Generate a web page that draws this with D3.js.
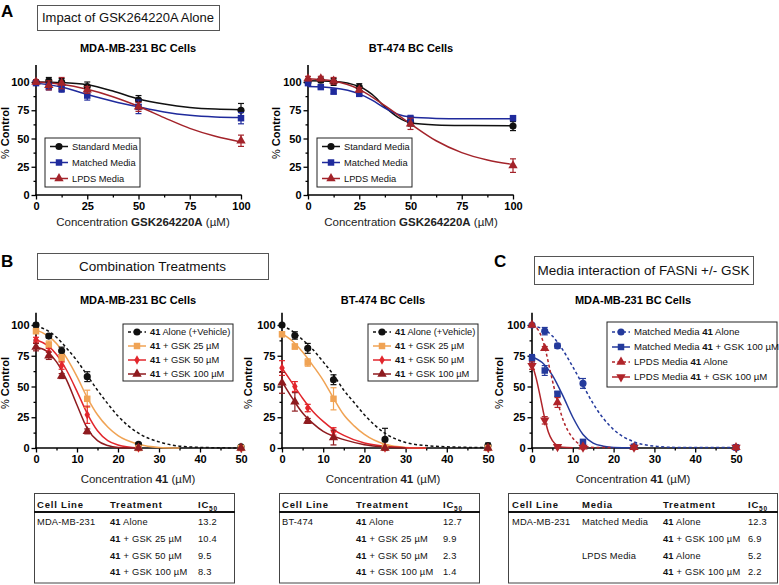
<!DOCTYPE html>
<html>
<head>
<meta charset="utf-8">
<script src="https://cdn.jsdelivr.net/npm/d3@7"></script>
<style>
  body { margin: 0; background: #fff; }
  svg { font-family: "Liberation Sans", Arial, sans-serif; }
</style>
</head>
<body>
<script>
// ---- axes / ticks ----
const concA = [0, 6.25, 12.5, 25, 50, 100];
const concB = [0, 3.125, 6.25, 12.5, 25, 50];
const ticksA = [0, 25, 50, 75, 100];
const minorA = [12.5, 37.5, 62.5, 87.5];
const ticksB = [0, 10, 20, 30, 40, 50];
const minorB = [5, 15, 25, 35, 45];
const yTicks = [0, 25, 50, 75, 100];
const yMinor = [12.5, 37.5, 62.5, 87.5];

// ---- panel A, MDA-MB-231 ----
const aMdaStd = [100, 101, 100, 96, 84, 75];
const aMdaStdErr = [2, 3, 3, 4, 4, 6];
const aMdaStdFit = [[0,100],[12.5,99.5],[25,97.5],[37.5,92],[50,85],[62.5,80.5],[75,77.5],[87.5,76],[100,75.5]];
const aMdaMat = [99, 96, 94, 88, 78, 68];
const aMdaMatErr = [2, 3, 3, 4, 6, 5];
const aMdaMatFit = [[0,99],[12.5,95.5],[25,89],[37.5,83],[50,78],[62.5,73.5],[75,70.5],[87.5,69],[100,68.5]];
const aMdaLpd = [100, 97, 99, 93, 78, 48];
const aMdaLpdErr = [2, 4, 5, 3, 4, 5];
const aMdaLpdFit = [[0,100],[12.5,98],[25,93.5],[37.5,87],[50,78.5],[62.5,68.5],[75,59],[87.5,52],[100,47]];

// ---- panel A, BT-474 ----
const aBtStd = [100, 101.5, 100, 95.5, 65, 61];
const aBtStdErr = [2, 2, 3, 3, 4, 4];
const aBtStdFit = [[0,101],[12.5,100.5],[25,96],[31.25,89],[37.5,78],[43.75,69],[50,64],[62.5,62],[75,61.5],[100,61.3]];
const aBtMat = [99, 95.5, 91.5, 89.5, 67.5, 68];
const aBtMatErr = [1.5, 1.5, 2, 2, 3, 2];
const aBtMatFit = [[0,96],[12.5,94.7],[25,89.5],[31.25,84],[37.5,77],[43.75,71.5],[50,69],[62.5,67.8],[75,67.5],[100,67.5]];
const aBtLpd = [103, 103, 101, 93, 63, 26];
const aBtLpdErr = [2, 2, 3, 2, 5, 6];
const aBtLpdFit = [[0,102.8],[12.5,100.8],[25,93.5],[37.5,79],[50,63],[62.5,48],[75,37.5],[87.5,31],[100,27]];

// ---- panel B, MDA-MB-231 ----
const bMdaAlone = [100, 91, 79, 58, 3, 1];
const bMdaAloneErr = [1.5, 1.5, 3, 4, 1, 1];
const bMdaAloneFit = [[0,99],[2.5,96],[5,90],[7.5,81],[10,71],[12.5,59],[15,47],[17.5,36],[20,26],[25,12],[30,5],[35,1.5],[40,0.5],[50,0]];
const bMdaG25 = [95, 84, 73, 40, 0, 0];
const bMdaG25Err = [2, 3, 3, 7, 0, 0];
const bMdaG25Fit = [[0,96],[2.5,92],[5,85],[7.5,73],[10,58],[12.5,41],[15,27],[17.5,17],[20,10],[25,3],[30,0.5],[35,0]];
const bMdaG50 = [88, 78, 67, 27, 0, 0];
const bMdaG50Err = [2, 3, 3, 7, 0, 0];
const bMdaG50Fit = [[0,88],[2.5,84],[5,76],[7.5,63],[10,46],[12.5,28],[15,14],[17.5,6],[20,2.5],[25,0]];
const bMdaG100 = [82, 75, 58.5, 13.5, 0, 0];
const bMdaG100Err = [3, 3, 2, 2, 0, 0];
const bMdaG100Fit = [[0,82],[2.5,79],[5,70],[7.5,55],[10,35],[12.5,16],[15,6],[17.5,2],[20,0.5],[25,0]];

// ---- panel B, BT-474 ----
const bBtAlone = [100, 91.5, 81, 55.5, 7, 2];
const bBtAloneErr = [1, 3, 4, 4, 9, 2];
const bBtAloneFit = [[0,99.5],[2.5,95],[5,88],[7.5,80],[10,70],[12.5,59.5],[15,47],[17.5,37],[20,27],[25,12],[30,4.5],[35,2],[40,1],[50,0.3]];
const bBtG25 = [92.5, 82.5, 69.5, 40, 0.5, 0];
const bBtG25Err = [2, 2, 3, 9, 1, 0];
const bBtG25Fit = [[0,93],[2.5,87],[5,78],[7.5,67],[10,55],[12.5,40.5],[15,27],[17.5,18],[20,11],[25,3],[30,0.5],[35,0]];
const bBtG50 = [65, 50, 32.5, 13.5, 0, 0];
const bBtG50Err = [6, 4, 3, 3, 0, 0];
const bBtG50Fit = [[0,65],[2.5,52.7],[5,40.5],[7.5,29.7],[10,21.6],[12.5,15],[15,10.3],[20,4],[25,1.4],[30,0.3],[35,0]];
const bBtG100 = [53, 37.5, 22, 8.5, 0, 0];
const bBtG100Err = [8.5, 7.5, 2, 6, 0, 0];
const bBtG100Fit = [[0,54],[2.5,40.5],[5,28.4],[7.5,20],[10,13.5],[12.5,9.5],[15,6.8],[20,2.7],[25,0.8],[30,0]];

// ---- panel C, MDA-MB-231 ----
const cMatAlone = [100, 95, 83, 52.5, 1, 0.5];
const cMatAloneErr = [1, 3, 2, 4, 0, 0];
const cMatAloneFit = [[0,99],[2.5,97],[5,91],[7.5,80],[10,66],[12.5,51],[15,36],[17.5,24],[20,15],[25,5],[30,1.5],[35,0.5],[50,0.3]];
const cMatGsk = [73, 63, 44, 5, 1, 0.5];
const cMatGskErr = [3, 4, 2, 1, 0, 0];
const cMatGskFit = [[0,74],[2.5,69.5],[5,59],[7.5,43],[10,25],[12.5,11],[15,4],[17.5,1.5],[20,0.5],[25,0.3]];
const cLpdAlone = [100, 81, 37, 1, 0.5, 0.5];
const cLpdAloneErr = [1, 1.5, 4, 0, 0, 0];
const cLpdAloneFit = [[0,99.5],[1.5,96],[3.125,82],[4.5,62],[6.25,38],[7.5,24],[10,8],[12.5,2],[15,0.5],[20,0.3]];
const cLpdGsk = [67, 22.5, 1, 0.5, 0.5, 0.5];
const cLpdGskErr = [3, 3, 1, 0, 0, 0];
const cLpdGskFit = [[0,68],[1,57],[2,42],[3.125,24],[4,13],[5,6],[6.25,2],[7.5,0.7],[10,0.3]];

// ---- legend labels ([text, bold]) ----
const mediaLabels = [[["Standard Media", false]], [["Matched Media", false]], [["LPDS Media", false]]];
const comboLabels = [
  [["41", true], [" Alone (+Vehicle)", false]],
  [["41", true], [" + GSK 25 \u00b5M", false]],
  [["41", true], [" + GSK 50 \u00b5M", false]],
  [["41", true], [" + GSK 100 \u00b5M", false]]
];
const mediaInterLabels = [
  [["Matched Media ", false], ["41", true], [" Alone", false]],
  [["Matched Media ", false], ["41", true], [" + GSK 100 \u00b5M", false]],
  [["LPDS Media ", false], ["41", true], [" Alone", false]],
  [["LPDS Media ", false], ["41", true], [" + GSK 100 \u00b5M", false]]
];

// ---- IC50 tables ----
const tab1Cell = ["MDA-MB-231", "", "", ""];
const tab1Treat = [" Alone", " + GSK 25 \u00b5M", " + GSK 50 \u00b5M", " + GSK 100 \u00b5M"];
const tab1IC50 = [13.2, 10.4, 9.5, 8.3];
const tab2Cell = ["BT-474", "", "", ""];
const tab2Treat = [" Alone", " + GSK 25 \u00b5M", " + GSK 50 \u00b5M", " + GSK 100 \u00b5M"];
const tab2IC50 = [12.7, 9.9, 2.3, 1.4];
const tab3Cell = ["MDA-MB-231", "", "", ""];
const tab3Media = ["Matched Media", "", "LPDS Media", ""];
const tab3Treat = [" Alone", " + GSK 100 \u00b5M", " Alone", " + GSK 100 \u00b5M"];
const tab3IC50 = [12.3, 6.9, 5.2, 2.2];

// colours
const cBlack = "#111", cBlueA = "#1f2a9c", cRedA = "#a3232a";
const cOrange = "#f0a354", cRedB = "#e2262c", cDarkRed = "#8f1b1f";
const cBlueC = "#243a9c", cRedC = "#b0242a";

const svg = d3.select("body").append("svg").attr("width", 779).attr("height", 585);

const symbolSizes = { circle: 40, square: 42, triangle: 38, triDown: 38, diamond: 26 };
function markerPath(m) {
  const type = m === "circle" ? d3.symbolCircle : m === "square" ? d3.symbolSquare :
               m === "diamond" ? d3.symbolDiamond : d3.symbolTriangle;
  return d3.symbol(type, symbolSizes[m])();
}
function markerTransform(m, px, py) {
  return `translate(${px},${py})` + (m === "triDown" ? " rotate(180)" : "");
}

function drawPanel(p) {
  const x = d3.scaleLinear().domain([0, p.xMax]).range([p.x0, p.x1]);
  const y = d3.scaleLinear().domain([0, 100]).range([p.y0, p.y100]);
  const g = svg.append("g");

  g.append("g").attr("transform", `translate(0,${p.y0})`)
    .call(d3.axisBottom(x).tickValues(p.xMinor).tickSize(2.5).tickFormat(""));
  g.append("g").attr("transform", `translate(${p.x0},0)`)
    .call(d3.axisLeft(y).tickValues(yMinor).tickSize(2.5).tickFormat(""));
  g.append("g").attr("transform", `translate(0,${p.y0})`)
    .call(d3.axisBottom(x).tickValues(p.xTicks).tickSize(4.5).tickPadding(3));
  g.append("g").attr("transform", `translate(${p.x0},0)`)
    .call(d3.axisLeft(y).tickValues(yTicks).tickSize(4.5).tickPadding(2));
  g.selectAll(".domain").remove();
  g.selectAll("g").attr("font-family", null).attr("font-size", null);
  g.selectAll(".tick line").attr("stroke", "#000").attr("stroke-width", 1.3);
  g.selectAll(".tick text").attr("font-size", 11).attr("font-weight", "bold").attr("fill", "#000");

  g.append("line").attr("x1", p.x0 - 0.7).attr("x2", p.x1 + 0.7).attr("y1", p.y0).attr("y2", p.y0)
    .attr("stroke", "#000").attr("stroke-width", 1.6);
  g.append("line").attr("x1", p.x0).attr("x2", p.x0).attr("y1", p.y0).attr("y2", y(p.yTop))
    .attr("stroke", "#000").attr("stroke-width", 1.6);

  // fitted curves
  const line = d3.line().x(d => x(d[0])).y(d => y(d[1])).curve(d3.curveMonotoneX);
  p.series.forEach(s => {
    g.append("path").datum(s.fit).attr("d", line)
      .attr("fill", "none").attr("stroke", s.color).attr("stroke-width", 1.5)
      .attr("stroke-dasharray", s.dashed ? "3,2.5" : null);
  });

  // error bars + points
  p.series.forEach(s => {
    const pts = s.vals.map((v, i) => ({ c: p.conc[i], v: v, e: s.err[i] }));
    const eb = g.append("g").attr("stroke", s.color).attr("stroke-width", 1.2);
    pts.filter(d => d.e > 0).forEach(d => {
      const px = x(d.c), yHi = y(d.v + d.e), yLo = y(d.v - d.e);
      eb.append("line").attr("x1", px).attr("x2", px).attr("y1", yHi).attr("y2", yLo);
      eb.append("line").attr("x1", px - 3).attr("x2", px + 3).attr("y1", yHi).attr("y2", yHi);
      eb.append("line").attr("x1", px - 3).attr("x2", px + 3).attr("y1", yLo).attr("y2", yLo);
    });
    g.append("g").selectAll("path").data(pts).join("path")
      .attr("d", markerPath(s.marker))
      .attr("transform", d => markerTransform(s.marker, x(d.c), y(d.v)))
      .attr("fill", s.color);
  });

  // legend
  const L = p.legend;
  const lg = svg.append("g");
  lg.append("rect").attr("x", L.x).attr("y", L.y).attr("width", L.w).attr("height", L.h)
    .attr("fill", "#fff").attr("stroke", "#222").attr("stroke-width", 1);
  p.series.forEach((s, i) => {
    const cy = L.y + L.pad + i * L.step;
    lg.append("line").attr("x1", L.x + 5).attr("x2", L.x + 23).attr("y1", cy).attr("y2", cy)
      .attr("stroke", s.color).attr("stroke-width", 1.5)
      .attr("stroke-dasharray", s.dashed ? "3,2.5" : null);
    lg.append("path").attr("d", markerPath(s.marker))
      .attr("transform", markerTransform(s.marker, L.x + 14, cy)).attr("fill", s.color);
    const t = lg.append("text").attr("x", L.x + 27).attr("y", cy + 3.3)
      .attr("font-size", L.fs || 9.3).attr("fill", "#111");
    L.labels[i].forEach(seg => t.append("tspan").text(seg[0]).attr("font-weight", seg[1] ? "bold" : null));
  });

  // titles
  svg.append("text").attr("x", p.titleX).attr("y", p.titleY).attr("text-anchor", "middle")
    .attr("font-size", 11).attr("font-weight", "bold").text(p.title);
  const yl = svg.append("text").attr("transform", `translate(${p.ylabX},${p.ylabY}) rotate(-90)`)
    .attr("text-anchor", "middle").attr("font-size", 11);
  yl.append("tspan").text("% ");
  yl.append("tspan").attr("font-weight", "bold").text("Control");
  const xl = svg.append("text").attr("x", p.xlabX).attr("y", p.xlabY).attr("text-anchor", "middle")
    .attr("font-size", 11.5).attr("fill", "#222");
  p.xlab.forEach(seg => xl.append("tspan").text(seg[0]).attr("font-weight", seg[1] ? "bold" : null));
}

function mk(vals, err, fit, color, marker, dashed) {
  return { vals, err, fit, color, marker, dashed };
}

const xlabA = [["Concentration ", false], ["GSK264220A", true], [" (\u00b5M)", false]];
const xlabB = [["Concentration ", false], ["41", true], [" (\u00b5M)", false]];

drawPanel({
  x0: 36, x1: 241, y0: 195, y100: 82, yTop: 115, xMax: 100, conc: concA, xTicks: ticksA, xMinor: minorA,
  series: [mk(aMdaStd, aMdaStdErr, aMdaStdFit, cBlack, "circle"),
           mk(aMdaMat, aMdaMatErr, aMdaMatFit, cBlueA, "square"),
           mk(aMdaLpd, aMdaLpdErr, aMdaLpdFit, cRedA, "triangle")],
  legend: { x: 45, y: 138, w: 95, h: 49, pad: 8.5, step: 16, labels: mediaLabels },
  title: "MDA-MB-231 BC Cells", titleX: 138, titleY: 52, ylabX: 9, ylabY: 133,
  xlab: xlabA, xlabX: 143, xlabY: 226
});
drawPanel({
  x0: 308, x1: 513, y0: 195, y100: 82, yTop: 115, xMax: 100, conc: concA, xTicks: ticksA, xMinor: minorA,
  series: [mk(aBtStd, aBtStdErr, aBtStdFit, cBlack, "circle"),
           mk(aBtMat, aBtMatErr, aBtMatFit, cBlueA, "square"),
           mk(aBtLpd, aBtLpdErr, aBtLpdFit, cRedA, "triangle")],
  legend: { x: 317, y: 138, w: 95, h: 49, pad: 8.5, step: 16, labels: mediaLabels },
  title: "BT-474 BC Cells", titleX: 411, titleY: 52, ylabX: 280, ylabY: 133,
  xlab: xlabA, xlabX: 411, xlabY: 226
});
drawPanel({
  x0: 36, x1: 241, y0: 448, y100: 325, yTop: 110, xMax: 50, conc: concB, xTicks: ticksB, xMinor: minorB,
  series: [mk(bMdaAlone, bMdaAloneErr, bMdaAloneFit, cBlack, "circle", true),
           mk(bMdaG25, bMdaG25Err, bMdaG25Fit, cOrange, "square"),
           mk(bMdaG50, bMdaG50Err, bMdaG50Fit, cRedB, "diamond"),
           mk(bMdaG100, bMdaG100Err, bMdaG100Fit, cDarkRed, "triangle")],
  legend: { x: 123, y: 324, w: 110, h: 57, pad: 8, step: 14, labels: comboLabels },
  title: "MDA-MB-231 BC Cells", titleX: 138, titleY: 304, ylabX: 9, ylabY: 383,
  xlab: xlabB, xlabX: 138, xlabY: 483
});
drawPanel({
  x0: 282, x1: 488, y0: 448, y100: 325, yTop: 110, xMax: 50, conc: concB, xTicks: ticksB, xMinor: minorB,
  series: [mk(bBtAlone, bBtAloneErr, bBtAloneFit, cBlack, "circle", true),
           mk(bBtG25, bBtG25Err, bBtG25Fit, cOrange, "square"),
           mk(bBtG50, bBtG50Err, bBtG50Fit, cRedB, "diamond"),
           mk(bBtG100, bBtG100Err, bBtG100Fit, cDarkRed, "triangle")],
  legend: { x: 368, y: 324, w: 110, h: 57, pad: 8, step: 14, labels: comboLabels },
  title: "BT-474 BC Cells", titleX: 383, titleY: 304, ylabX: 252, ylabY: 383,
  xlab: xlabB, xlabX: 383, xlabY: 483
});
drawPanel({
  x0: 532, x1: 736, y0: 448, y100: 325, yTop: 110, xMax: 50, conc: concB, xTicks: ticksB, xMinor: minorB,
  series: [mk(cMatAlone, cMatAloneErr, cMatAloneFit, cBlueC, "circle", true),
           mk(cMatGsk, cMatGskErr, cMatGskFit, cBlueC, "square"),
           mk(cLpdAlone, cLpdAloneErr, cLpdAloneFit, cRedC, "triangle", true),
           mk(cLpdGsk, cLpdGskErr, cLpdGskFit, cRedC, "triDown")],
  legend: { x: 607, y: 322, w: 170, h: 65, pad: 10, step: 15, fs: 9.6, labels: mediaInterLabels },
  title: "MDA-MB-231 BC Cells", titleX: 633, titleY: 304, ylabX: 503, ylabY: 383,
  xlab: xlabB, xlabX: 633, xlabY: 483
});

// panel letters and header boxes
function letter(t, x, y) {
  svg.append("text").attr("x", x).attr("y", y).attr("font-size", 17).attr("font-weight", "bold").text(t);
}
letter("A", 1, 17); letter("B", 1, 267); letter("C", 494, 267);

function headerBox(t, x, y, w, h, fs) {
  svg.append("rect").attr("x", x + 0.5).attr("y", y + 0.5).attr("width", w).attr("height", h)
    .attr("fill", "#fff").attr("stroke", "#555").attr("stroke-width", 1);
  svg.append("text").attr("x", x + w / 2).attr("y", y + h / 2 + fs * 0.36).attr("text-anchor", "middle")
    .attr("font-size", fs).attr("fill", "#111").text(t);
}
headerBox("Impact of GSK264220A Alone", 37, 5, 182, 25, 13);
headerBox("Combination Treatments", 37, 253, 231, 26, 13.5);
headerBox("Media interaction of FASNi +/- GSK", 534, 256, 219, 28, 13.5);

// tables
function drawTable(T) {
  const g = svg.append("g").attr("fill", "#111");
  g.append("rect").attr("x", T.x + 0.5).attr("y", 493.5).attr("width", T.w).attr("height", 89.5)
    .attr("fill", "#fff").attr("stroke", "#444").attr("stroke-width", 1);
  g.append("line").attr("x1", T.x).attr("x2", T.x + T.w + 1).attr("y1", 512).attr("y2", 512)
    .attr("stroke", "#111").attr("stroke-width", 2);
  T.heads.forEach((h, i) => {
    const t = g.append("text").attr("x", T.cols[i]).attr("y", 508).attr("font-size", 9.5)
      .attr("font-weight", "bold").attr("letter-spacing", 0.8).text(h);
    if (h === "IC") t.append("tspan").attr("font-size", 6.5).attr("dy", 2.5).text("50");
  });
  const rowY = [525, 542, 558.5, 575];
  T.columns.forEach((col, ci) => {
    col.forEach((v, r) => {
      const t = g.append("text").attr("x", T.cols[ci]).attr("y", rowY[r]).attr("font-size", 9.3)
        .attr("letter-spacing", 0.2);
      if (T.treatCol === ci) {
        t.append("tspan").attr("font-weight", "bold").text("41");
        t.append("tspan").text(v);
      } else {
        t.text(typeof v === "number" ? d3.format(".1f")(v) : v);
      }
    });
  });
}
drawTable({ x: 34, w: 200, cols: [37, 110, 198], heads: ["Cell Line", "Treatment", "IC"],
  columns: [tab1Cell, tab1Treat, tab1IC50], treatCol: 1 });
drawTable({ x: 279, w: 200, cols: [282, 356, 443], heads: ["Cell Line", "Treatment", "IC"],
  columns: [tab2Cell, tab2Treat, tab2IC50], treatCol: 1 });
drawTable({ x: 508, w: 269, cols: [512, 582, 663, 748], heads: ["Cell Line", "Media", "Treatment", "IC"],
  columns: [tab3Cell, tab3Media, tab3Treat, tab3IC50], treatCol: 2 });
</script>
</body>
</html>
